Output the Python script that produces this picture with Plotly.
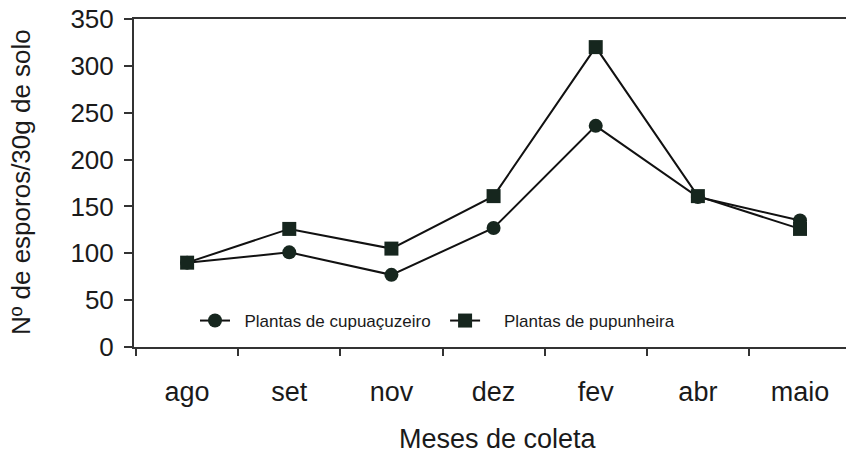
import plotly.graph_objects as go

months = ["ago", "set", "nov", "dez", "fev", "abr", "maio"]
cupuacuzeiro = [90, 101, 77, 127, 236, 160, 135]
pupunheira = [90, 126, 105, 161, 320, 161, 126]
y_ticks = [0, 50, 100, 150, 200, 250, 300, 350]

FONT = "Liberation Sans, Arial, sans-serif"
MARK = "#16261e"
NB = "\u00a0"

W, H = 846, 453
L, T, R, B = 134, 19, 0, 106
PW, PH = W - L - R, H - T - B


def px(xf):
    return (xf - L) / PW


def py(yf):
    return (T + PH - yf) / PH


fig = go.Figure()
fig.add_trace(go.Scatter(
    x=months, y=cupuacuzeiro, name=NB * 2 + "Plantas de cupuaçuzeiro" + NB * 2,
    mode="lines+markers",
    line=dict(color="#111111", width=2),
    marker=dict(symbol="circle", size=14, color=MARK),
))
fig.add_trace(go.Scatter(
    x=months, y=pupunheira, name=NB * 4 + "Plantas de pupunheira",
    mode="lines+markers",
    line=dict(color="#111111", width=2),
    marker=dict(symbol="square", size=14, color=MARK),
))

fig.update_layout(
    width=W, height=H,
    margin=dict(l=L, r=R, t=T, b=B, pad=0),
    paper_bgcolor="white", plot_bgcolor="white",
    font=dict(family=FONT, color="#1a1a1a"),
    showlegend=True,
    legend=dict(
        orientation="h", x=px(195), y=py(321), xanchor="left", yanchor="middle",
        font=dict(size=17, family=FONT, color="#1a1a1a"),
        bgcolor="rgba(0,0,0,0)", itemwidth=30, tracegroupgap=0,
    ),
    xaxis=dict(
        type="category", range=[-0.52, 6.45],
        showgrid=False, zeroline=False,
        showline=True, linecolor="#333333", linewidth=2, mirror=True,
        ticks="outside", ticklen=7, tickcolor="#333333", tickwidth=1.5,
        tickson="boundaries",
        tickfont=dict(size=27, family=FONT, color="#1a1a1a"),
        ticklabelstandoff=20,
    ),
    yaxis=dict(
        range=[0, 350], tickvals=y_ticks,
        showgrid=False, zeroline=False,
        showline=True, linecolor="#333333", linewidth=2,
        ticks="outside", ticklen=8, tickcolor="#333333", tickwidth=1.5,
        tickfont=dict(size=26, family=FONT, color="#1a1a1a"),
        ticklabelstandoff=5, ticklabeloverflow="allow",
    ),
    annotations=[
        dict(text="Nº de esporos/30g de solo", xref="paper", yref="paper",
             x=px(21), y=py(182), xanchor="center", yanchor="middle",
             textangle=-90, showarrow=False,
             font=dict(size=26, family=FONT, color="#1a1a1a")),
        dict(text="Meses de coleta", xref="paper", yref="paper",
             x=px(498), y=py(439), xanchor="center", yanchor="middle",
             showarrow=False,
             font=dict(size=27, family=FONT, color="#1a1a1a")),
    ],
)

fig.write_html(
    "out.html",
    config={"displayModeBar": False},
    post_script="document.body.style.margin='0';document.body.style.overflow='hidden';",
)
